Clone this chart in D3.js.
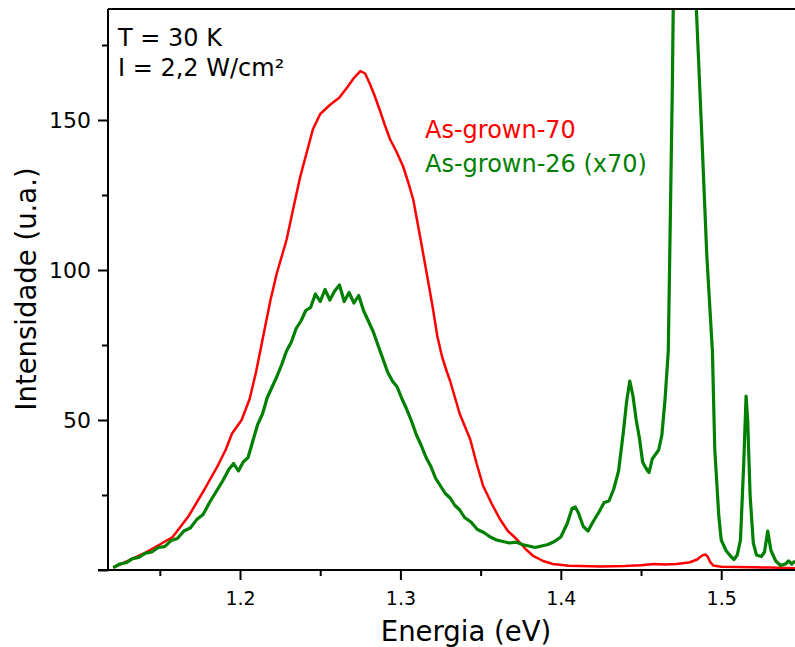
<!DOCTYPE html>
<html>
<head>
<meta charset="utf-8">
<script src="https://cdn.jsdelivr.net/npm/d3@7"></script>
<style>
  body { margin: 0; background: #fff; }
  text { font-family: "DejaVu Sans", sans-serif; }
</style>
</head>
<body>
<div id="chart"></div>
<script>
// energy (eV) and intensity (u.a.) for sample As-grown-70
var redEnergy = [1.121, 1.130, 1.140, 1.150, 1.158, 1.168, 1.178, 1.186, 1.191, 1.195,
  1.201, 1.206, 1.210, 1.2145, 1.219, 1.223, 1.229, 1.233, 1.2375, 1.242,
  1.2455, 1.250, 1.256, 1.262, 1.267, 1.271, 1.275, 1.278, 1.281, 1.284,
  1.287, 1.2905, 1.2936, 1.2975, 1.3017, 1.305, 1.308, 1.3123, 1.3167, 1.320,
  1.323, 1.326, 1.329, 1.331, 1.337, 1.3435, 1.3475, 1.3516, 1.357, 1.362,
  1.367, 1.373, 1.378, 1.383, 1.389, 1.395, 1.405, 1.412, 1.425, 1.440,
  1.450, 1.458, 1.465, 1.472, 1.480, 1.485, 1.488, 1.490, 1.4915, 1.493,
  1.495, 1.500, 1.510, 1.520, 1.530, 1.546];
var redValues = [0.8, 3, 5.5, 8.5, 11, 18, 27, 34.6, 40, 45.5,
  50, 57, 66, 78, 90, 99, 110, 120, 131, 140,
  147, 152, 155, 157.5, 161, 164, 166.3, 165.5, 162, 158,
  153.5, 148, 143.5, 139.5, 134.5, 129, 123.5, 111, 98, 88,
  78, 71, 66, 63, 52, 43.6, 35.5, 28, 22, 17,
  13, 10, 7, 4.6, 3, 2, 1.4, 1.3, 1.2, 1.3,
  1.6, 2, 1.8, 2, 2.5, 3.5, 4.8, 5.2, 4.5, 2.8,
  1.5, 1.1, 1.0, 0.9, 0.8, 0.6];

// energy (eV) and intensity (u.a., x70) for sample As-grown-26
var greenEnergy = [1.121, 1.125, 1.129, 1.133, 1.137, 1.141, 1.145, 1.149, 1.153, 1.157,
  1.161, 1.165, 1.169, 1.173, 1.177, 1.181, 1.185, 1.189, 1.193, 1.196,
  1.199, 1.202, 1.205, 1.208, 1.211, 1.214, 1.217, 1.220, 1.223, 1.226,
  1.229, 1.232, 1.235, 1.238, 1.241, 1.244, 1.247, 1.250, 1.253, 1.256,
  1.259, 1.262, 1.265, 1.268, 1.271, 1.274, 1.277, 1.280, 1.283, 1.286,
  1.289, 1.292, 1.295, 1.298, 1.301, 1.304, 1.307, 1.310, 1.313, 1.316,
  1.319, 1.322, 1.325, 1.328, 1.331, 1.334, 1.337, 1.340, 1.344, 1.348,
  1.352, 1.356, 1.360, 1.364, 1.368, 1.372, 1.376, 1.380, 1.384, 1.388,
  1.392, 1.396, 1.400, 1.404, 1.407, 1.409, 1.411, 1.414, 1.417, 1.420,
  1.424, 1.427, 1.430, 1.433, 1.436, 1.439, 1.441, 1.443, 1.445, 1.447,
  1.449, 1.451, 1.453, 1.455, 1.457, 1.459, 1.461, 1.463, 1.465, 1.467,
  1.4695, 1.471, 1.476, 1.481, 1.4845, 1.4875, 1.491, 1.4945, 1.496, 1.4985,
  1.500, 1.503, 1.506, 1.508, 1.510, 1.512, 1.514, 1.5155, 1.5165, 1.518,
  1.520, 1.522, 1.525, 1.527, 1.529, 1.531, 1.534, 1.537, 1.540, 1.542,
  1.544, 1.546];
var greenValues = [0.8, 2.0, 2.4, 3.8, 4.2, 5.6, 6.0, 7.5, 7.8, 9.8,
  10.5, 13.0, 14.0, 16.8, 18.5, 22.5, 26.0, 29.5, 33.5, 35.5,
  33.0, 36.0, 37.5, 43.0, 48.5, 52.0, 57.5, 61.0, 64.5, 68.5,
  73.0, 76.0, 80.5, 83.0, 86.5, 87.5, 92.0, 89.5, 93.5, 90.0,
  93.0, 95.0, 89.5, 92.5, 89.0, 91.5, 86.5, 83.0, 79.5, 75.0,
  70.5, 66.0, 63.0, 61.0, 57.0, 53.5, 49.5, 45.0, 41.5, 37.5,
  34.5, 30.5, 28.0, 25.5, 24.0, 21.5, 20.0, 17.5, 16.0, 13.5,
  12.5, 11.0, 10.0, 9.5, 9.0, 9.3, 8.5, 8.0, 7.5, 8.0,
  8.5, 9.5, 11.0, 15.5, 20.5, 21.0, 19.0, 14.5, 13.0, 16.0,
  19.5, 22.5, 23.0, 27.0, 33.0, 46.0, 56.0, 63.0, 58.0, 50.0,
  44.0, 36.0, 34.0, 32.5, 37.0, 38.5, 40.0, 45.0, 57.0, 73.0,
  160, 230, 300, 290, 187, 150, 105, 73, 40, 18,
  10, 6.5, 4.5, 3.5, 5, 10, 35, 58, 50, 25,
  9, 5, 4.5, 6, 13, 6.5, 3, 1.5, 2, 3,
  2, 3];

// tick labels
var xTicks = [1.2, 1.3, 1.4, 1.5];
var xMinor = [1.15, 1.25, 1.35, 1.45];
var yTicks = [0, 50, 100, 150];
var yMinor = [25, 75, 125, 175];

var w = 795;
var h = 647;
var plotLeft = 108, plotTop = 9, plotRight = 795, plotBottom = 570;

var svg = d3
  .select("#chart")
  .append("svg")
  .attr("width", w)
  .attr("height", h);

var x = d3.scaleLinear().domain([1.1177, 1.546]).range([plotLeft, plotRight]);
var y = d3.scaleLinear().domain([0, 187]).range([plotBottom, plotTop]);

// clip the curves to the plot frame
svg
  .append("clipPath")
  .attr("id", "plot-clip")
  .append("rect")
  .attr("x", plotLeft)
  .attr("y", plotTop)
  .attr("width", plotRight - plotLeft)
  .attr("height", plotBottom - plotTop);

var line = d3
  .line()
  .x((d) => x(d[0]))
  .y((d) => y(d[1]));

var redData = redEnergy.map((e, i) => [e, redValues[i]]);
var greenData = greenEnergy.map((e, i) => [e, greenValues[i]]);

var plot = svg.append("g").attr("clip-path", "url(#plot-clip)");

plot
  .append("path")
  .datum(redData)
  .attr("fill", "none")
  .attr("stroke", "#ff0000")
  .attr("stroke-width", 2.5)
  .attr("stroke-linejoin", "round")
  .attr("d", line);

plot
  .append("path")
  .datum(greenData)
  .attr("fill", "none")
  .attr("stroke", "#008000")
  .attr("stroke-width", 3.2)
  .attr("stroke-linejoin", "round")
  .attr("d", line);

// x axis with minor ticks
var xAxis = svg
  .append("g")
  .attr("transform", "translate(0," + plotBottom + ")")
  .call(d3.axisBottom(x).tickValues(xTicks).tickSize(10).tickSizeOuter(0).tickFormat(d3.format(".1f")));
svg
  .append("g")
  .attr("transform", "translate(0," + plotBottom + ")")
  .call(d3.axisBottom(x).tickValues(xMinor).tickSize(6).tickSizeOuter(0).tickFormat(""))
  .select(".domain")
  .remove();
xAxis.select(".domain").attr("d", "M" + (plotLeft - 10) + ",0H" + plotRight);

// y axis with minor ticks
var yAxis = svg
  .append("g")
  .attr("transform", "translate(" + plotLeft + ",0)")
  .call(d3.axisLeft(y).tickValues(yTicks).tickSize(10).tickSizeOuter(0).tickFormat((d) => (d === 0 ? "" : d)));
svg
  .append("g")
  .attr("transform", "translate(" + plotLeft + ",0)")
  .call(d3.axisLeft(y).tickValues(yMinor).tickSize(6).tickSizeOuter(0).tickFormat(""))
  .select(".domain")
  .remove();
yAxis.select(".domain").attr("d", "M0," + plotBottom + "V" + plotTop);

svg.selectAll(".domain, .tick line").attr("stroke", "#000").attr("stroke-width", 2);
xAxis.selectAll(".tick text").attr("font-size", 19).attr("dy", "1.15em").attr("fill", "#000");
yAxis.selectAll(".tick text").attr("font-size", 22).attr("x", -17).attr("fill", "#000");

// top frame line
svg
  .append("line")
  .attr("x1", plotLeft)
  .attr("x2", plotRight)
  .attr("y1", plotTop)
  .attr("y2", plotTop)
  .attr("stroke", "#000")
  .attr("stroke-width", 2);

// axis titles
svg
  .append("text")
  .attr("x", 466)
  .attr("y", 641)
  .attr("text-anchor", "middle")
  .attr("font-size", 27.5)
  .text("Energia (eV)");

svg
  .append("text")
  .attr("transform", "translate(36,289) rotate(-90)")
  .attr("text-anchor", "middle")
  .attr("font-size", 27.5)
  .text("Intensidade (u.a.)");

// conditions
svg.append("text").attr("x", 118).attr("y", 46).attr("font-size", 24).text("T = 30 K");
svg.append("text").attr("x", 118).attr("y", 76).attr("font-size", 24).text("I = 2,2 W/cm²");

// legend
svg.append("text").attr("x", 425).attr("y", 138).attr("font-size", 24).attr("fill", "#ff0000").text("As-grown-70");
svg.append("text").attr("x", 425).attr("y", 172).attr("font-size", 24).attr("fill", "#008000").text("As-grown-26 (x70)");
</script>
</body>
</html>
